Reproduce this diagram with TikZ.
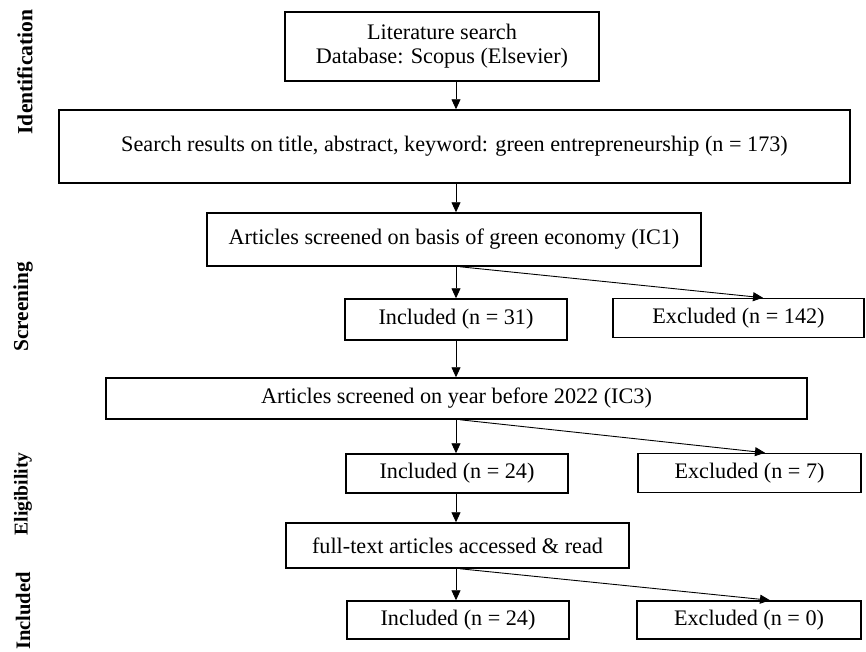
\documentclass[tikz,border=0pt]{standalone}
\usepackage{fontspec}
\setmainfont{Liberation Serif}
\usetikzlibrary{arrows.meta}
\begin{document}
\begin{tikzpicture}[x=1pt,y=-1pt,
  box/.style={draw, line width=1.5pt, inner sep=0pt, align=center,
    font=\fontsize{22.2}{24}\selectfont},
  arr/.style={line width=0.9pt, -{Triangle[length=10pt,width=9pt]}},
  side/.style={rotate=90, inner sep=0pt}]
\useasboundingbox (0,0) rectangle (866,651);
% boxes
\node[box, minimum width=314, minimum height=69] (b1) at (442,46.5) {Literature search\\Database: Scopus (Elsevier)};
\node[box, minimum width=791, minimum height=73] (b2) at (454.5,146.5) {Search results on title, abstract, keyword: green entrepreneurship (n = 173)};
\node[box, minimum width=494, minimum height=53] (b3) at (454,239.5) {Articles screened on basis of green economy (IC1)};
\node[box, minimum width=222, minimum height=41] (b4) at (456,319.5) {Included (n = 31)};
\node[box, minimum width=251, minimum height=39] (b5) at (738.5,318) {Excluded (n = 142)};
\node[box, minimum width=701, minimum height=41] (b6) at (456.5,398.5) {Articles screened on year before 2022 (IC3)};
\node[box, minimum width=222, minimum height=39] (b7) at (457,473.5) {Included (n = 24)};
\node[box, minimum width=223, minimum height=39] (b8) at (749.5,473) {Excluded (n = 7)};
\node[box, minimum width=343, minimum height=45] (b9) at (457.5,545.5) {full-text articles accessed \& read};
\node[box, minimum width=222, minimum height=38] (b10) at (458,620) {Included (n = 24)};
\node[box, minimum width=224, minimum height=38] (b11) at (749,620) {Excluded (n = 0)};
% side labels
\node[side, font=\fontsize{21.6}{24}\selectfont\bfseries] (l1) at (25,72) {Identification};
\node[side, font=\fontsize{21.3}{24}\selectfont\bfseries] (l2) at (23,307) {Screening};
\node[side, font=\fontsize{19.6}{24}\selectfont\bfseries] (l3) at (23,494) {Eligibility};
\node[side, font=\fontsize{20.6}{24}\selectfont\bfseries] (l4) at (23,611) {Included};
% arrow columns
\coordinate (ax) at (456,0);
\coordinate (dx) at (460,0);
\coordinate (t1) at (763,0);
\coordinate (t2) at (765,0);
\coordinate (t3) at (770,0);
\draw[arr] (b1.south -| ax) -- (b2.north -| ax);
\draw[arr] (b2.south -| ax) -- (b3.north -| ax);
\draw[arr] (b3.south -| ax) -- (b4.north -| ax);
\draw[arr] (b3.south -| dx) -- (b5.north -| t1);
\draw[arr] (b4.south -| ax) -- (b6.north -| ax);
\draw[arr] (b6.south -| ax) -- (b7.north -| ax);
\draw[arr] (b6.south -| dx) -- (b8.north -| t2);
\draw[arr] (b7.south -| ax) -- (b9.north -| ax);
\draw[arr] (b9.south -| ax) -- (b10.north -| ax);
\draw[arr] (b9.south -| dx) -- (b11.north -| t3);
\end{tikzpicture}
\end{document}
